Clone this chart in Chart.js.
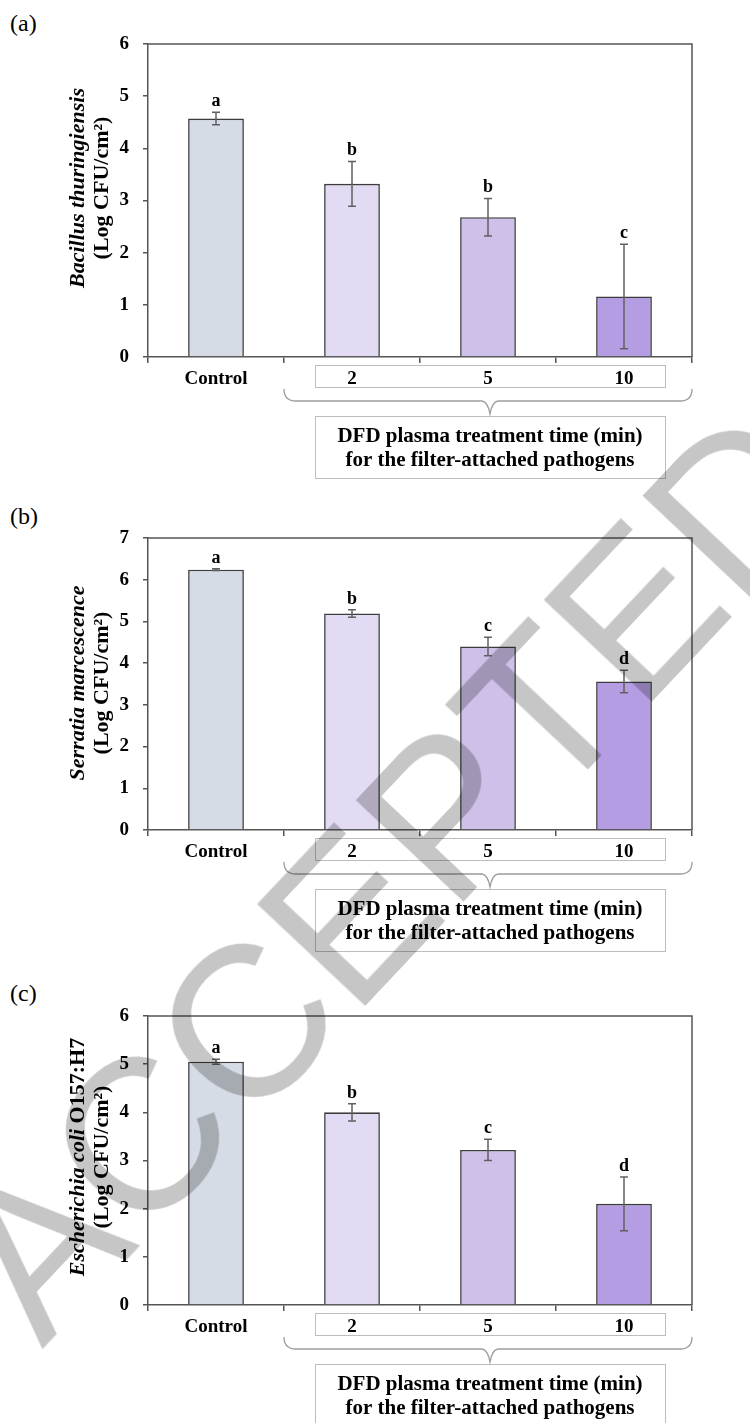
<!DOCTYPE html>
<html>
<head>
<meta charset="utf-8">
<script src="https://cdn.jsdelivr.net/npm/chart.js@4.4.1/dist/chart.umd.min.js"></script>
<style>
  body { margin: 0; background: #fff; width: 750px; height: 1423px; overflow: hidden; position: relative; }
  canvas { position: absolute; left: 0; }
  .tag { position: absolute; left: 10px; font: 24px/24px 'Liberation Serif', 'Times New Roman', serif; color: #000; }
  #wm {
    position: absolute; left: 389px; top: 872px;
    transform: translate(-50%, -50%) rotate(-46.7deg);
    font: 215px/1 'Liberation Sans', Arial, sans-serif;
    color: #c6c6c6; mix-blend-mode: multiply; white-space: nowrap; pointer-events: none;
  }
</style>
</head>
<body>
<div class="tag" style="top:11px">(a)</div>
<div class="tag" style="top:504px">(b)</div>
<div class="tag" style="top:981px">(c)</div>
<canvas id="chartA" width="750" height="480" style="top:0px"></canvas>
<canvas id="chartB" width="750" height="475" style="top:480px"></canvas>
<canvas id="chartC" width="750" height="468" style="top:955px"></canvas>
<div id="wm">ACCEPTED</div>

<script>
const categories = ['Control', '2', '5', '10'];

const bacillusMeans = [4.57, 3.32, 2.68, 1.16];
const bacillusErrors = [0.12, 0.43, 0.36, 1.00];
const bacillusLetters = ['a', 'b', 'b', 'c'];

const serratiaMeans = [6.24, 5.19, 4.40, 3.56];
const serratiaErrors = [0.02, 0.09, 0.22, 0.27];
const serratiaLetters = ['a', 'b', 'c', 'd'];

const ecoliMeans = [5.05, 4.00, 3.22, 2.10];
const ecoliErrors = [0.05, 0.18, 0.22, 0.56];
const ecoliLetters = ['a', 'b', 'c', 'd'];

const xTitleLines = ['DFD plasma treatment time (min)', 'for the filter-attached pathogens'];

const barColors = ['#d6dce5', '#e3dbf3', '#cfc0ea', '#b49de3'];
const SERIF = "'Liberation Serif', 'Times New Roman', serif";
const AXIS = '#555555';

function drawRotatedLine(ctx, parts, baseX, centerY) {
    ctx.save();
    ctx.translate(baseX, centerY);
    ctx.rotate(-Math.PI / 2);
    ctx.textAlign = 'left';
    ctx.textBaseline = 'alphabetic';
    ctx.fillStyle = '#000';
    const fonts = parts.map(p => `${p.italic ? 'italic ' : ''}bold 22px ${SERIF}`);
    let total = 0;
    parts.forEach((p, i) => { ctx.font = fonts[i]; total += ctx.measureText(p.text).width; });
    let pos = -total / 2;
    parts.forEach((p, i) => {
        ctx.font = fonts[i];
        ctx.fillText(p.text, pos, 0);
        pos += ctx.measureText(p.text).width;
    });
    ctx.restore();
}

const renderPanel = (id, cfg) => {
    const canvas = document.getElementById(id);
    const H = canvas.height;

    const extras = {
        id: 'extras',
        afterDatasetsDraw(chart) {
            const { ctx, chartArea: a, scales: { x, y } } = chart;
            ctx.save();
            // top and right frame
            ctx.strokeStyle = AXIS;
            ctx.lineWidth = 1.5;
            ctx.beginPath();
            ctx.moveTo(a.left, a.top);
            ctx.lineTo(a.right, a.top);
            ctx.lineTo(a.right, a.bottom);
            ctx.stroke();

            // error bars and significance letters
            cfg.means.forEach((m, i) => {
                const cx = x.getPixelForValue(i);
                const hi = y.getPixelForValue(m + cfg.errors[i]);
                const lo = y.getPixelForValue(Math.max(0, m - cfg.errors[i]));
                ctx.strokeStyle = '#606060';
                ctx.lineWidth = 1.5;
                ctx.beginPath();
                ctx.moveTo(cx, hi); ctx.lineTo(cx, lo);
                ctx.moveTo(cx - 4, hi); ctx.lineTo(cx + 4, hi);
                ctx.moveTo(cx - 4, lo); ctx.lineTo(cx + 4, lo);
                ctx.stroke();
                ctx.fillStyle = '#000';
                ctx.font = `bold 18px ${SERIF}`;
                ctx.textAlign = 'center';
                ctx.textBaseline = 'alphabetic';
                ctx.fillText(cfg.letters[i], cx, hi - 6);
            });
            ctx.restore();
        },
        afterDraw(chart) {
            const { ctx, chartArea: a, scales: { x } } = chart;
            const b = a.bottom;
            const c1 = x.getPixelForValue(1);
            const c3 = x.getPixelForValue(3);
            const braceL = (x.getPixelForValue(0) + c1) / 2;
            const braceR = a.right;
            const boxL = c1 - 37;
            const boxR = c3 + 41;
            const mid = (boxL + boxR) / 2;

            ctx.save();
            // box around treatment labels
            ctx.strokeStyle = '#bdbdbd';
            ctx.lineWidth = 1;
            ctx.strokeRect(boxL + 0.5, b + 8.5, boxR - boxL, 22);

            // curly brace
            ctx.strokeStyle = '#9c9c9c';
            ctx.lineWidth = 1.3;
            ctx.beginPath();
            ctx.moveTo(braceL, b + 32);
            ctx.quadraticCurveTo(braceL, b + 44, braceL + 12, b + 44);
            ctx.lineTo(mid - 8, b + 44);
            ctx.quadraticCurveTo(mid - 2, b + 45, mid, b + 57);
            ctx.quadraticCurveTo(mid + 2, b + 45, mid + 8, b + 44);
            ctx.lineTo(braceR - 12, b + 44);
            ctx.quadraticCurveTo(braceR, b + 44, braceR, b + 32);
            ctx.stroke();

            // x title box
            ctx.strokeStyle = '#bdbdbd';
            ctx.lineWidth = 1;
            ctx.strokeRect(boxL + 0.5, b + 59.5, boxR - boxL, 62);
            ctx.fillStyle = '#000';
            ctx.font = `bold 21px ${SERIF}`;
            ctx.textAlign = 'center';
            ctx.textBaseline = 'middle';
            ctx.fillText(xTitleLines[0], mid, b + 80);
            ctx.fillText(xTitleLines[1], mid, b + 104);

            // y title
            drawRotatedLine(ctx, cfg.title[0], 84, cfg.titleY);
            drawRotatedLine(ctx, cfg.title[1], 108, cfg.titleY);
            ctx.restore();
        }
    };

    new Chart(canvas.getContext('2d'), {
        type: 'bar',
        data: {
            labels: categories,
            datasets: [{
                data: cfg.means,
                backgroundColor: barColors,
                borderColor: '#3c3c3c',
                borderWidth: 1.6,
                barPercentage: 0.41,
                categoryPercentage: 1,
            }],
        },
        options: {
            responsive: false,
            animation: false,
            layout: { padding: { top: cfg.top, right: 58, left: 0, bottom: 0 } },
            plugins: { legend: { display: false }, tooltip: { enabled: false } },
            scales: {
                x: {
                    afterFit: (scale) => { scale.height = H - cfg.bottom; },
                    grid: { drawOnChartArea: false, offset: true, tickLength: 6, color: AXIS, lineWidth: 1.5 },
                    border: { color: AXIS, width: 1.5 },
                    ticks: { color: '#000', padding: 5, font: { family: SERIF, size: 19, weight: 'bold' } },
                },
                y: {
                    min: 0,
                    max: cfg.max,
                    afterFit: (scale) => { scale.width = 148; },
                    grid: { drawOnChartArea: false, tickLength: 5, color: AXIS, lineWidth: 1.5 },
                    border: { color: AXIS, width: 1.5 },
                    ticks: { stepSize: 1, color: '#000', padding: 14, font: { family: SERIF, size: 19, weight: 'bold' } },
                },
            },
        },
        plugins: [extras],
    });
};

renderPanel('chartA', {
    means: bacillusMeans, errors: bacillusErrors, letters: bacillusLetters,
    max: 6, top: 44, bottom: 357, titleY: 188,
    title: [[{ text: 'Bacillus thuringiensis', italic: true }], [{ text: '(Log CFU/cm²)' }]],
});
renderPanel('chartB', {
    means: serratiaMeans, errors: serratiaErrors, letters: serratiaLetters,
    max: 7, top: 58, bottom: 350, titleY: 203,
    title: [[{ text: 'Serratia marcescence', italic: true }], [{ text: '(Log CFU/cm²)' }]],
});
renderPanel('chartC', {
    means: ecoliMeans, errors: ecoliErrors, letters: ecoliLetters,
    max: 6, top: 61, bottom: 350, titleY: 202,
    title: [[{ text: 'Escherichia coli', italic: true }, { text: ' O157:H7' }], [{ text: '(Log CFU/cm²)' }]],
});
</script>
</body>
</html>
